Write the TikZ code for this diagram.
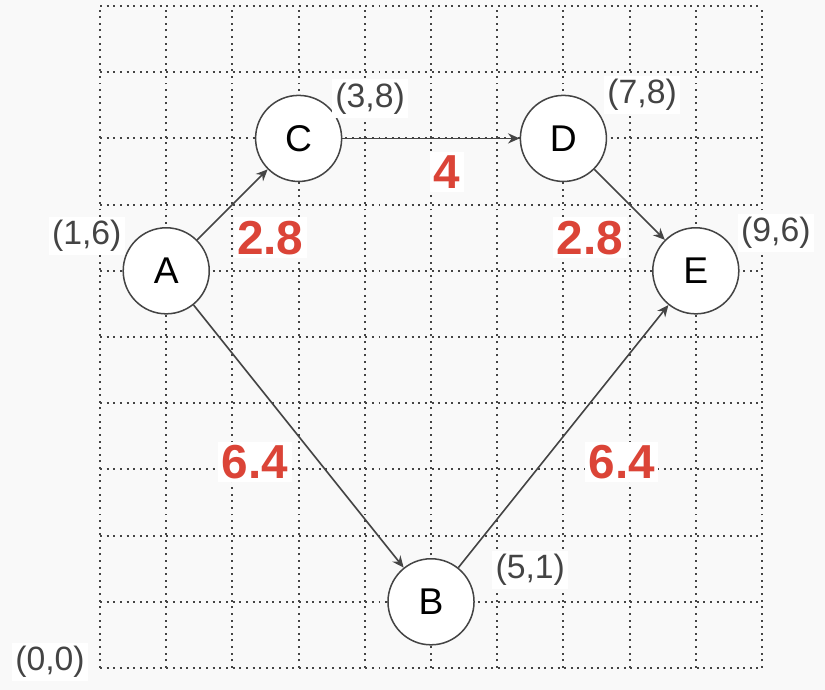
\documentclass[tikz,border=0pt]{standalone}
\usepackage{fontspec}
\setmainfont{Liberation Sans}
\usetikzlibrary{arrows.meta}
\definecolor{bgcol}{HTML}{F9F9F9}
\definecolor{ink}{HTML}{444444}
\definecolor{wred}{HTML}{DB4437}
\tikzset{
  vtx/.style={circle,draw=ink,line width=0.65pt,fill=white,minimum size=1.3cm,inner sep=0pt,font=\fontsize{16}{19}\selectfont},
  coordlbl/.style={fill=white,text=ink,inner sep=1.5pt,font=\fontsize{14.5}{17}\selectfont},
  wt/.style={fill=white,text=wred,inner sep=1.5pt,font=\bfseries\fontsize{20.5}{24}\selectfont},
  link/.style={draw=ink,line width=0.7pt,-{Stealth[length=5pt,width=4.4pt]}},
  gridline/.style={draw=ink,line width=0.85pt,dash pattern=on 0.85pt off 2pt}
}
\begin{document}
\begin{tikzpicture}
  \fill[bgcol] (-1.511,-0.332) rectangle (10.952,10.091);
  \useasboundingbox (-1.511,-0.332) rectangle (10.952,10.091);
  \draw[gridline] (0,0) grid (10,10);
  \node[vtx] (A) at (1,6) {A}; \node[vtx] (B) at (5,1) {B}; \node[vtx] (C) at (3,8) {C};
  \node[vtx] (D) at (7,8) {D}; \node[vtx] (E) at (9,6) {E};
  \draw[link] (A)--(C); \draw[link] (C)--(D); \draw[link] (D)--(E);
  \draw[link] (A)--(B); \draw[link] (B)--(E);
  \node[coordlbl] (pA) at (-0.2,6.53) {(1,6)}; \node[coordlbl] (pC) at (4.08,8.6) {(3,8)};
  \node[coordlbl] (pD) at (8.19,8.66) {(7,8)}; \node[coordlbl] (pE) at (10.21,6.57) {(9,6)};
  \node[coordlbl] (pB) at (6.5,1.48) {(5,1)}; \node[coordlbl] (pO) at (-0.755,0.09) {(0,0)};
  \node[wt] (wAC) at (2.57,6.5) {2.8}; \node[wt] (wCD) at (5.24,7.49) {4};
  \node[wt] (wDE) at (7.4,6.5) {2.8}; \node[wt] (wAB) at (2.34,3.11) {6.4};
  \node[wt] (wBE) at (7.88,3.11) {6.4};
\end{tikzpicture}
\end{document}
